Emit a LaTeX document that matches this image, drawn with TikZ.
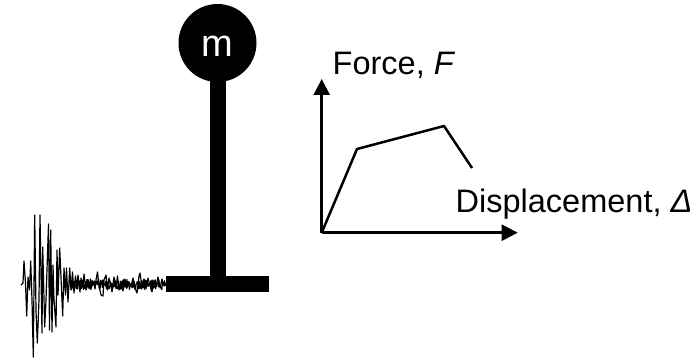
\documentclass[tikz,border=0pt]{standalone}
\usepackage{fontspec}
\setmainfont{Liberation Sans}
\usepackage{tikz}
\usetikzlibrary{arrows.meta,positioning,calc}
\tikzset{
  axislabel/.style={anchor=base west,inner sep=0pt,font=\fontsize{32.5}{36}\selectfont},
  axisline/.style={line width=2.5pt,-{Triangle[length=16pt,width=16pt]}},
  curveline/.style={line width=2.5pt,line join=round},
  groundline/.style={line width=1.2pt,line join=round}
}
\begin{document}
\begin{tikzpicture}[x=1pt,y=-1pt]
    \useasboundingbox (0,0) rectangle (697,361);
    \pgfmathsetseed{7}
    \node[circle,fill=black,minimum size=78pt,inner sep=0pt,text=white,font=\fontsize{38}{42}\selectfont] (mass) at (217.5,43) {\raisebox{-13.5pt}[0pt][0pt]{m}};
    \node[fill=black,minimum width=103pt,minimum height=16pt,inner sep=0pt] (base) at (217.5,284) {};
    \draw[line width=16pt,shorten <=-6pt] (mass)--(base);
    \draw[groundline] plot coordinates {(21,285) (23,283) (24,261) (25.5,283) (26.7,316) (28,277) (29.5,290) (30.7,261) (32,300) (33.3,357) (34.7,215) (36,310) (37.3,343) (39,300) (40,215) (42,333) (42.7,247) (44.7,327) (46,300) (48.5,224) (49.5,330) (50.7,230) (52,332) (53,265) (54,300) (56,327) (57,250) (58,295) (59.7,248) (62.7,316) (64,268) (65.5,295) (66.5,268) (68,302) (69.7,268) (71,290) (72.5,272) (74,293) (75.5,276) (77,288) (78,275) (80,292) (81,278) (83,287) (84,274) (86,290) (87.5,280) (89,288) (90.5,279) (92,286) (93.5,282) (95,289) (96,280) (97.5,272) (99,286) (101,295) (103,296) (104,280) (106,275) (107.5,290) (109,278) (111,286) (112,292) (114,277) (116,288) (117.5,276) (119,290) (121,281) (123,291) (125,279) (127,288) (129,282) (131,286) (133,278) (135,288) (137,293) (139,276) (140,273) (142,287) (144,279) (146,289) (148,278) (150,286) (152,292) (154,280) (156,287) (158,277) (160,288) (162,279) (164,286) (166,283)};
    \draw[groundline] plot[samples=190,domain=70:167] (\x,{284.5+5*rand});
    \node[axislabel] (force) at (332.5,75) {Force, \textit{F}};
    \node[axislabel] (disp) at (455.5,212) {Displacement, \textit{Δ}};
    \coordinate (origin) at (321.7,232.7);
    \coordinate (ytip) at (321.7,79);
    \coordinate (xtip) at (517.7,232.7);
    \coordinate (yield) at (357,149);
    \coordinate (peak) at (444,126);
    \coordinate (fail) at (472,168);
    \draw[axisline] (origin)--(ytip);
    \draw[axisline] (origin)--(xtip);
    \draw[curveline] (origin)--(yield)--(peak)--(fail);
\end{tikzpicture}
\end{document}
